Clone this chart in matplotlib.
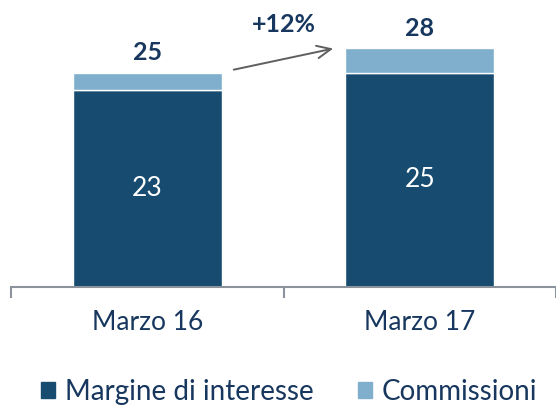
import matplotlib
matplotlib.use('Agg')
import numpy as np
from matplotlib import pyplot as plt
from matplotlib.patches import Patch

categories = ['Marzo 16', 'Marzo 17']
margine = [23, 25]
commissioni = [2.0, 2.9]
totali = ['25', '28']
crescita = '+12%'

dark = '#174b6f'
light = '#7fafcd'
navy = '#17375e'

plt.rcParams['font.family'] = ['Lato', 'DejaVu Sans']

fig = plt.figure(figsize=(5.56, 4.07), dpi=100)
ax = fig.add_axes([11/556, 120/407, 1 - 11/556, 287/407])

x = np.arange(len(categories))
w = 0.545
ax.bar(x, margine, w, color=dark, edgecolor='white', linewidth=1)
ax.bar(x, commissioni, w, bottom=margine, color=light, edgecolor='white', linewidth=1)

for i in range(len(categories)):
    ax.text(x[i], margine[i] / 2, str(margine[i]), ha='center', va='center',
            color='white', fontsize=19)
    top = margine[i] + commissioni[i]
    ax.annotate(totali[i], (x[i], top), xytext=(0, 6), textcoords='offset points',
                ha='center', va='bottom', color=navy, fontsize=18, fontweight='bold')

# growth arrow
x0 = x[0] + w / 2 + 0.035
x1 = x[1] - w / 2 - 0.035
y0 = margine[0] + commissioni[0] + 0.3
y1 = margine[1] + commissioni[1]
ax.annotate('', xy=(x1, y1), xytext=(x0, y0),
            arrowprops=dict(arrowstyle='->,head_length=1.0,head_width=0.45',
                            color='#5f5f5f', lw=1.4))
ax.text(0.5, 30.6, crescita, ha='center', va='center', color=navy,
        fontsize=18, fontweight='bold')

ax.set_xlim(-0.5, 1.5)
ax.set_ylim(0, 33.5)
ax.set_yticks([])
ax.set_xticks([-0.5, 0.5, 1.5])
ax.set_xticklabels([])
ax.tick_params(axis='x', length=8, width=1.5, color='#8c939c', direction='out')
for s in ['top', 'right', 'left']:
    ax.spines[s].set_visible(False)
ax.spines['bottom'].set_color('#8c939c')
ax.spines['bottom'].set_linewidth(1.5)
for i, c in enumerate(categories):
    ax.text(x[i], -4.2, c, ha='center', va='center', color=navy, fontsize=19)

handles = [Patch(color=dark), Patch(color=light)]
fig.legend(handles, ['Margine di interesse', 'Commissioni'], loc='center',
           bbox_to_anchor=(0.52, 0.037), ncol=2, frameon=False, fontsize=20,
           labelcolor=navy, handlelength=0.5, handleheight=0.5, handletextpad=0.35,
           columnspacing=1.6, borderpad=0)

fig.savefig('out.png', dpi=100)
